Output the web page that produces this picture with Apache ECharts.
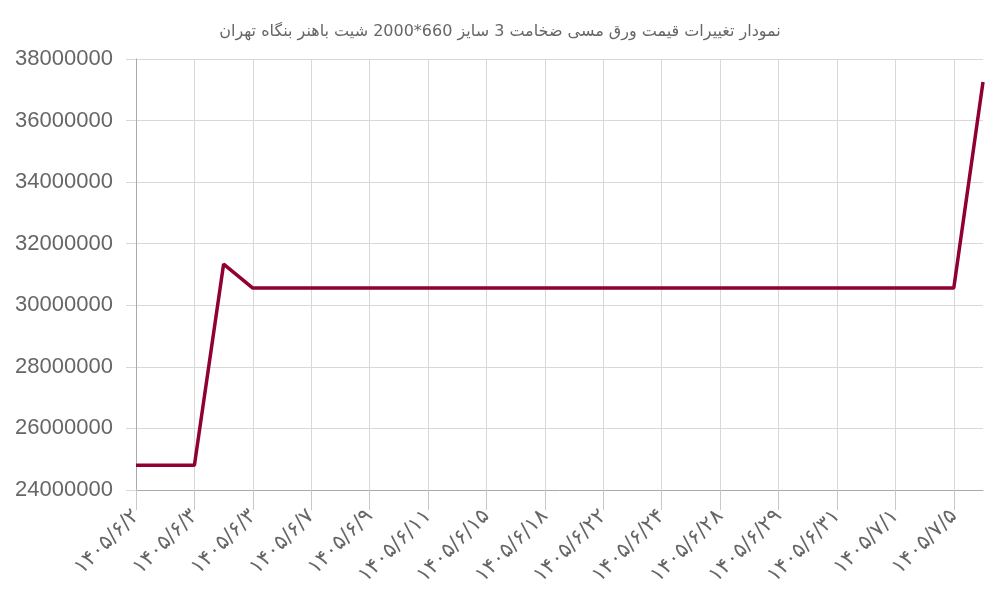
<!DOCTYPE html>
<html><head><meta charset="utf-8">
<script src="https://cdn.jsdelivr.net/npm/echarts@6/dist/echarts.min.js"></script>
<style>html,body{margin:0;padding:0;background:#fff}#c{width:1000px;height:600px}</style>
</head><body><div id="c"></div>
<script>
const titleText = 'نمودار تغییرات قیمت ورق مسی ضخامت 3 سایز 660*2000 شیت باهنر بنگاه تهران';
const categories = [
  '۱۴۰۵/۶/۲','۱۴۰۵/۶/۲','۱۴۰۵/۶/۳','۱۴۰۵/۶/۳','۱۴۰۵/۶/۳','۱۴۰۵/۶/۶',
  '۱۴۰۵/۶/۷','۱۴۰۵/۶/۸','۱۴۰۵/۶/۹','۱۴۰۵/۶/۱۰','۱۴۰۵/۶/۱۱','۱۴۰۵/۶/۱۳',
  '۱۴۰۵/۶/۱۵','۱۴۰۵/۶/۱۶','۱۴۰۵/۶/۱۸','۱۴۰۵/۶/۲۰','۱۴۰۵/۶/۲۲','۱۴۰۵/۶/۲۳',
  '۱۴۰۵/۶/۲۴','۱۴۰۵/۶/۲۷','۱۴۰۵/۶/۲۸','۱۴۰۵/۶/۲۸','۱۴۰۵/۶/۲۹','۱۴۰۵/۶/۳۰',
  '۱۴۰۵/۶/۳۱','۱۴۰۵/۶/۳۱','۱۴۰۵/۷/۱','۱۴۰۵/۷/۴','۱۴۰۵/۷/۵','۱۴۰۵/۷/۶'
];
const prices = [
  24800000,24800000,24800000,31340000,30560000,30560000,
  30560000,30560000,30560000,30560000,30560000,30560000,
  30560000,30560000,30560000,30560000,30560000,30560000,
  30560000,30560000,30560000,30560000,30560000,30560000,
  30560000,30560000,30560000,30560000,30560000,37250000
];
const yMin = 24000000, yMax = 38000000, yStep = 2000000;

const chart = echarts.init(document.getElementById('c'));
chart.setOption({
  animation: false,
  title: {
    text: titleText, left: 'center', top: 19,
    textStyle: {fontFamily: 'DejaVu Sans', fontSize: 16, fontWeight: 'normal', color: '#666'}
  },
  grid: {left: 136, right: 17, top: 59, bottom: 110, containLabel: false},
  xAxis: {
    type: 'category', data: categories, boundaryGap: false,
    axisLine: {lineStyle: {color: '#aaa', width: 1}},
    axisTick: {show: true, interval: 1, inside: false, length: 20, lineStyle: {color: '#c8c8c8', width: 1}},
    splitLine: {show: true, interval: 1, lineStyle: {color: '#d8d8d8'}},
    axisLabel: {interval: 1, rotate: 45, fontFamily: 'DejaVu Sans', fontSize: 21, color: '#666', margin: 23}
  },
  yAxis: {
    type: 'value', min: yMin, max: yMax, interval: yStep,
    axisLine: {show: true, lineStyle: {color: '#aaa', width: 1}},
    axisTick: {show: true, length: 10, lineStyle: {color: '#d8d8d8'}},
    splitLine: {show: true, lineStyle: {color: '#d8d8d8'}},
    axisLabel: {fontFamily: 'Liberation Sans', fontSize: 22, color: '#666', margin: 23,
      formatter: v => String(v)}
  },
  series: [{
    type: 'line', data: prices, symbol: 'none',
    lineStyle: {color: '#900035', width: 3.5}
  }]
});
</script></body></html>
